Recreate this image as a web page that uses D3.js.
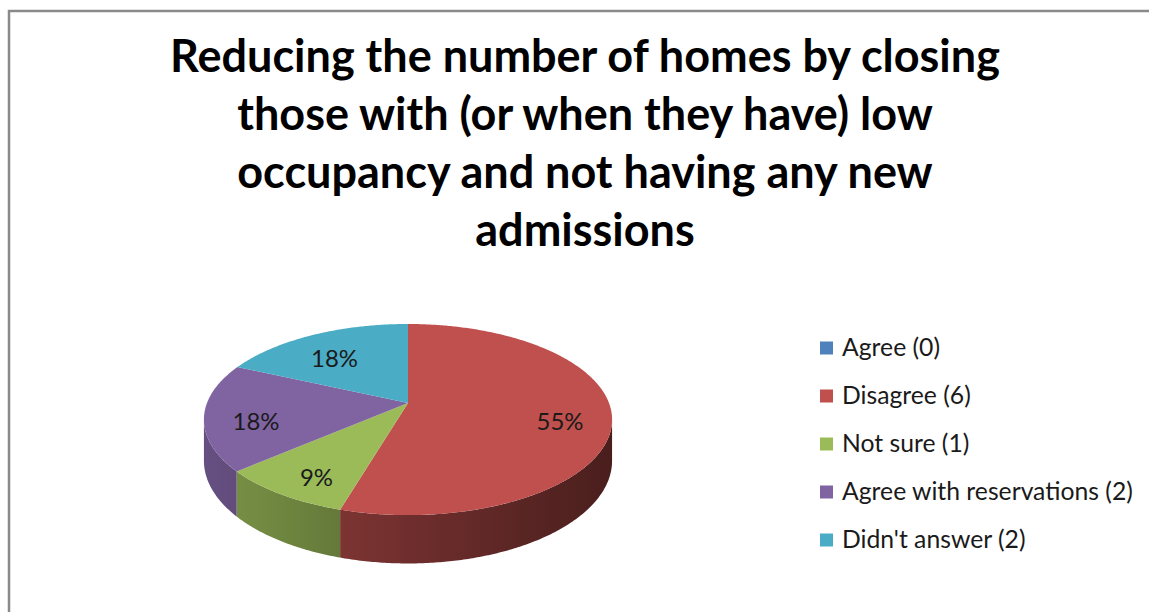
<!DOCTYPE html>
<meta charset="utf-8">
<title>Reducing the number of homes</title>
<style>
body { margin: 0; background: #fff; }
svg { display: block; }
.title text { font: bold 36px Lato, sans-serif; text-anchor: middle; fill: #000; }
.legend text { font: 21px Lato, sans-serif; fill: #1a1a1a; }
.pct { font: 22px Lato, sans-serif; text-anchor: middle; fill: #1a1a1a; }
</style>
<svg width="1149" height="612"></svg>
<script src="https://cdn.jsdelivr.net/npm/d3@7"></script>
<script>

var titleLines = [
  "Reducing the number of homes by closing",
  "those with (or when they have) low",
  "occupancy and not having any new",
  "admissions"
];
var categories = ["Agree", "Disagree", "Not sure", "Agree with reservations", "Didn't answer"];
var counts = [0, 6, 1, 2, 2];
var colors = ["#4F81BD", "#C0504D", "#9BBB59", "#8064A2", "#4BACC6"];

var svg = d3.select("svg");

// chart frame (cropped at right and bottom)
svg.append("path")
    .attr("d", "M9,640V11H1160")
    .attr("fill", "none")
    .attr("stroke", "#8a8a8a")
    .attr("stroke-width", 2.5);

// title
var title = svg.append("g").attr("class", "title");
var tl = title.selectAll("text")
    .data(titleLines)
  .enter().append("text")
    .attr("x", 585)
    .attr("y", function(d, i) { return 72 + i * 58; })
    .text(function(d) { return d; });
var tw = tl.node().getComputedTextLength();
tl.style("font-size", (36 * 830 / tw) + "px");

// 3d pie with a bit of perspective
var cx = 408, cy = 403, A = 201, B = 92.7, p = 0.173, H = 40;

function project(r, a, h) {
  var X = r * Math.sin(a), Z = -r * Math.cos(a), w = 1 - p * Z;
  return [cx + A * X / w, cy + B * Z / w + h * H / w];
}

function arcPts(a0, a1, h) {
  var n = Math.max(2, Math.ceil(Math.abs(a1 - a0) / 0.01)), pts = [];
  for (var i = 0; i <= n; i++) pts.push(project(1, a0 + (a1 - a0) * i / n, h));
  return pts;
}

var total = d3.sum(counts);
var data = categories.map(function(c, i) { return {name: c, value: counts[i], color: colors[i]}; });
var arcs = d3.pie().sort(null).value(function(d) { return d.value; })(data)
    .filter(function(d) { return d.value > 0; });

var line = d3.line();
var defs = svg.append("defs");

// side shading: lit from the left, darker to the right
var shade = d3.scaleLinear().domain([-1, -0.3, 1]).range([0.8, 0.64, 0.38]);
arcs.forEach(function(d, i) {
  var g = defs.append("linearGradient")
      .attr("id", "side" + i)
      .attr("gradientUnits", "userSpaceOnUse")
      .attr("x1", cx - A * 1.02).attr("x2", cx + A * 1.02)
      .attr("y1", 0).attr("y2", 0);
  d3.range(0, 1.0001, 0.1).forEach(function(t) {
    var c = d3.rgb(d.data.color), k = shade(t * 2 - 1);
    g.append("stop")
        .attr("offset", t)
        .attr("stop-color", d3.rgb(c.r * k, c.g * k, c.b * k));
  });
});

// visible part of the outer wall
var vis0 = Math.acos(-p), vis1 = 2 * Math.PI - vis0;
var pie = svg.append("g");
arcs.forEach(function(d, i) {
  var a0 = Math.max(d.startAngle, vis0), a1 = Math.min(d.endAngle, vis1);
  if (a1 <= a0) return;
  var pts = arcPts(a0, a1, 0).concat(arcPts(a1, a0, 1));
  pie.append("path")
      .attr("d", line(pts) + "Z")
      .attr("fill", "url(#side" + i + ")");
});

// top faces
pie.selectAll(".top")
    .data(arcs)
  .enter().append("path")
    .attr("class", "top")
    .attr("d", function(d) { return line([[cx, cy]].concat(arcPts(d.startAngle, d.endAngle, 0))) + "Z"; })
    .attr("fill", function(d) { return d.data.color; });

// percent labels
var pl = pie.selectAll(".pct")
    .data(arcs)
  .enter().append("text")
    .attr("class", "pct")
    .attr("transform", function(d) {
      var q = project(0.75, (d.startAngle + d.endAngle) / 2, 0);
      return "translate(" + q[0] + "," + (q[1] + 17) + ")";
    })
    .text(function(d) { return Math.round(d.value / total * 100) + "%"; });
var pw = pl.node().getComputedTextLength();
pl.style("font-size", (22 * 47 / pw) + "px");

// legend
var legend = svg.append("g").attr("class", "legend")
  .selectAll("g")
    .data(data)
  .enter().append("g")
    .attr("transform", function(d, i) { return "translate(820," + (348 + i * 48) + ")"; });

legend.append("rect")
    .attr("x", 0).attr("y", -6.5)
    .attr("width", 13).attr("height", 13)
    .attr("fill", function(d) { return d.color; });

var lt = legend.append("text")
    .attr("x", 22)
    .attr("y", 8)
    .text(function(d) { return d.name + " (" + d.value + ")"; });
var lw = lt.nodes()[3].getComputedTextLength();
lt.style("font-size", (21 * 291 / lw) + "px");

</script>
